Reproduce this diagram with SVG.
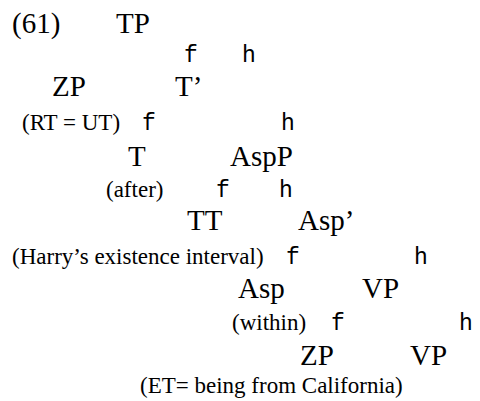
<svg xmlns="http://www.w3.org/2000/svg" width="480" height="401" viewBox="0 0 480 401">
<style>
.n{font-family:"Liberation Serif","Times New Roman",serif;font-size:29px;fill:#000}
.s{font-family:"Liberation Serif","Times New Roman",serif;font-size:23px;fill:#000}
.b{font-family:"Liberation Mono","Courier New",monospace;font-size:23px;fill:#000}
</style>
<rect width="480" height="401" fill="#fff"/>
<g id="num"><text class="n" x="12" y="33">(61)</text></g>
<g id="TP"><text class="n" x="116" y="33">TP</text></g>
<g id="ZP1"><text class="n" x="52" y="96">ZP</text><text class="s" x="22" y="130">(RT = UT)</text></g>
<g id="Tbar"><text class="n" x="175" y="96">T’</text></g>
<g id="T"><text class="n" x="128" y="166">T</text><text class="s" x="106" y="197">(after)</text></g>
<g id="AspP"><text class="n" x="230" y="166">AspP</text></g>
<g id="TT"><text class="n" x="187" y="230">TT</text><text class="s" x="12" y="264">(Harry’s existence interval)</text></g>
<g id="Aspbar"><text class="n" x="298" y="230">Asp’</text></g>
<g id="Asp"><text class="n" x="238" y="298">Asp</text><text class="s" x="232" y="330">(within)</text></g>
<g id="VP1"><text class="n" x="362" y="298">VP</text></g>
<g id="ZP2"><text class="n" x="300" y="365">ZP</text><text class="s" x="140" y="393">(ET= being from California)</text></g>
<g id="VP2"><text class="n" x="410" y="365">VP</text></g>
<g id="connectors">
<text class="b" x="184" y="62">f</text><text class="b" x="242" y="62">h</text>
<text class="b" x="142" y="130">f</text><text class="b" x="281" y="130">h</text>
<text class="b" x="216" y="197">f</text><text class="b" x="279" y="197">h</text>
<text class="b" x="286" y="264">f</text><text class="b" x="414" y="264">h</text>
<text class="b" x="331" y="330">f</text><text class="b" x="459" y="330">h</text>
</g>
</svg>
